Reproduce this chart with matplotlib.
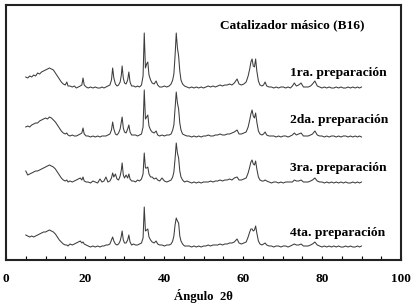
import matplotlib
matplotlib.use("Agg")
import matplotlib.pyplot as plt
import numpy as np

two_theta = [
    5.0, 5.5, 6.0, 6.5, 7.0, 7.5, 8.0, 8.5, 9.0, 9.5,
    10.0, 10.5, 11.0, 11.5, 12.0, 12.5, 13.0, 13.5, 14.0, 14.5,
    15.0, 15.4, 15.7, 16.2, 16.8, 17.3, 17.8, 18.3, 18.8, 19.2,
    19.5, 19.8, 20.3, 20.8, 21.4, 22.0, 22.6, 23.2, 23.8, 24.3,
    24.8, 25.3, 25.8, 26.3, 26.7, 27.0, 27.3, 27.7, 28.1, 28.5,
    28.9, 29.2, 29.4, 29.7, 30.0, 30.4, 30.8, 31.1, 31.4, 31.8,
    32.3, 32.8, 33.3, 33.8, 34.3, 34.7, 35.0, 35.3, 35.6, 35.9,
    36.2, 36.6, 37.0, 37.5, 38.0, 38.4, 38.9, 39.5, 40.1, 40.7,
    41.3, 41.8, 42.2, 42.5, 42.8, 43.1, 43.4, 43.7, 44.0, 44.3,
    44.7, 45.2, 45.8, 46.4, 47.0, 47.6, 48.2, 48.8, 49.4, 50.0,
    50.6, 51.2, 51.8, 52.4, 53.0, 53.6, 54.2, 54.8, 55.4, 56.0,
    56.6, 57.2, 57.8, 58.5, 59.0, 59.6, 60.2, 60.8, 61.3, 61.7,
    62.0, 62.3, 62.6, 62.9, 63.2, 63.5, 63.9, 64.3, 64.8, 65.2,
    65.6, 66.0, 66.6, 67.2, 67.8, 68.4, 69.0, 69.6, 70.2, 70.8,
    71.4, 72.0, 72.5, 73.0, 73.5, 74.1, 74.7, 75.3, 75.9, 76.5,
    77.1, 77.6, 78.2, 78.8, 79.4, 80.0, 80.6, 81.2, 81.8, 82.4,
    83.0, 83.6, 84.2, 84.8, 85.4, 86.0, 86.6, 87.2, 87.8, 88.4,
    89.0, 89.5, 90.0,
]

prep1 = [
    11, 10, 12, 11, 13, 12, 15, 14, 16, 17,
    18, 19, 20, 19, 18, 15, 12, 9, 6, 4,
    3, 6, 2, 2, 1, 2, 0, 1, 2, 3,
    10, 3, 1, 0, 1, 0, 1, 0, 0, 1,
    0, 1, 2, 3, 8, 20, 10, 4, 2, 3,
    6, 13, 22, 10, 5, 4, 8, 16, 6, 2,
    2, 1, 2, 1, 3, 12, 55, 20, 24, 26,
    13, 8, 5, 4, 7, 3, 1, 1, 2, 1,
    2, 4, 8, 14, 32, 55, 40, 32, 17, 8,
    4, 2, 1, 0, 1, 0, 1, 0, 1, 0,
    1, 2, 1, 2, 1, 2, 3, 2, 3, 3,
    4, 3, 5, 9, 4, 3, 4, 6, 12, 19,
    26, 29, 22, 21, 29, 17, 7, 3, 2, 3,
    6, 2, 1, 1, 0, 1, 0, 1, 1, 0,
    1, 0, 2, 5, 2, 3, 5, 1, 1, 1,
    2, 4, 7, 2, 1, 0, 1, 0, 1, 0,
    0, 1, 0, 1, 0, 0, 1, 0, 1, 0,
    1, 0, 1,
]

prep2 = [
    10, 11, 10, 12, 13, 14, 14, 16, 17, 18,
    19, 18, 20, 19, 17, 15, 12, 9, 6, 4,
    3, 4, 2, 1, 2, 1, 1, 2, 3, 4,
    9, 3, 1, 1, 0, 1, 0, 1, 0, 1,
    1, 1, 2, 3, 7, 15, 8, 3, 2, 4,
    8, 15, 20, 9, 5, 4, 8, 12, 5, 2,
    2, 2, 1, 2, 3, 10, 47, 18, 20, 22,
    11, 7, 5, 4, 6, 2, 1, 2, 1, 2,
    2, 3, 7, 12, 28, 45, 34, 28, 14, 7,
    3, 2, 1, 1, 0, 1, 0, 1, 0, 1,
    1, 2, 1, 1, 2, 2, 3, 2, 2, 3,
    3, 4, 5, 7, 3, 3, 4, 5, 10, 17,
    23, 27, 21, 19, 24, 15, 6, 3, 2, 3,
    5, 2, 1, 1, 1, 0, 1, 0, 1, 1,
    0, 1, 2, 4, 2, 3, 4, 1, 1, 1,
    2, 3, 6, 2, 1, 1, 0, 1, 0, 1,
    1, 0, 1, 0, 1, 1, 0, 1, 0, 1,
    0, 1, 0,
]

prep3 = [
    12, 8, 9, 10, 11, 12, 12, 13, 14, 15,
    16, 17, 18, 17, 16, 14, 11, 8, 5, 3,
    2, 3, 1, 2, 1, 2, 3, 4, 5, 3,
    6, 2, 1, 1, 0, 2, 1, 0, 4, 1,
    2, 6, 1, 2, 5, 10, 6, 9, 4, 3,
    7, 13, 20, 8, 5, 8, 5, 9, 4, 2,
    2, 1, 3, 2, 4, 9, 30, 15, 15, 16,
    9, 6, 6, 4, 5, 3, 2, 5, 2, 1,
    2, 3, 6, 11, 24, 40, 30, 25, 12, 6,
    3, 1, 2, 1, 0, 1, 0, 1, 0, 1,
    1, 1, 2, 1, 2, 2, 3, 2, 3, 3,
    4, 3, 5, 6, 3, 3, 4, 5, 10, 16,
    21, 23, 19, 18, 22, 14, 6, 3, 2, 2,
    3, 2, 1, 0, 1, 1, 0, 1, 0, 1,
    1, 1, 1, 3, 2, 2, 3, 1, 1, 1,
    2, 3, 5, 2, 1, 1, 0, 1, 0, 1,
    0, 1, 0, 1, 0, 1, 0, 0, 1, 0,
    1, 0, 1,
]

prep4 = [
    12, 11, 10, 11, 10, 11, 12, 13, 14, 15,
    15, 16, 17, 16, 15, 13, 10, 7, 5, 3,
    2, 2, 1, 3, 2, 3, 4, 5, 6, 4,
    5, 3, 2, 1, 0, 1, 0, 1, 0, 1,
    1, 2, 2, 3, 7, 10, 6, 3, 2, 3,
    6, 11, 16, 7, 4, 4, 7, 12, 5, 2,
    3, 2, 2, 3, 4, 9, 40, 16, 17, 18,
    10, 7, 5, 4, 6, 3, 2, 2, 1, 2,
    2, 3, 6, 11, 22, 29, 26, 24, 11, 6,
    3, 1, 1, 1, 0, 1, 0, 1, 0, 1,
    1, 2, 1, 2, 2, 2, 3, 2, 3, 3,
    4, 4, 5, 8, 4, 3, 4, 5, 10, 15,
    18, 18, 16, 17, 21, 14, 6, 3, 2, 3,
    4, 2, 1, 1, 0, 1, 1, 0, 1, 1,
    0, 1, 2, 3, 2, 2, 3, 1, 1, 1,
    2, 3, 5, 2, 1, 0, 1, 0, 1, 0,
    1, 0, 1, 0, 0, 1, 0, 1, 0, 0,
    1, 0, 1,
]

series = [prep1, prep2, prep3, prep4]
offsets = [172, 123, 77, 13]
labels = ["1ra. preparación", "2da. preparación", "3ra. preparación", "4ta. preparación"]
label_y = [187, 140, 92, 27]
title = "Catalizador másico (B16)"

serif = ["Liberation Serif", "DejaVu Serif"]

fig = plt.figure(figsize=(4.16, 3.07), dpi=100)
ax = fig.add_axes([6/416, 47/307, 395/416, 255/307])

x = np.array(two_theta)
for s, off in zip(series, offsets):
    assert len(s) == len(x)
    ax.plot(x, np.array(s) + off, color="#3c3c3c", lw=0.75)

for lab, ly in zip(labels, label_y):
    ax.text(71.9, ly, lab, family=serif, weight="bold", fontsize=9.7, va="center", ha="left")
ax.text(54.2, 235, title, family=serif, weight="bold", fontsize=9.6, va="center", ha="left")

ax.set_xlim(0, 100)
ax.set_ylim(0, 255)
ax.set_yticks([])
ax.set_xticks([0, 20, 40, 60, 80, 100])
ax.set_xticks(np.arange(0, 101, 5), minor=True)
ax.tick_params(axis="x", which="both", direction="in", length=3, width=0.8, pad=9)
for lbl in ax.get_xticklabels():
    lbl.set_family(serif)
    lbl.set_weight("bold")
    lbl.set_fontsize(9.5)
ax.set_xlabel("Ángulo  2θ", family=serif, weight="bold", fontsize=9.2, labelpad=3)
for sp in ax.spines.values():
    sp.set_linewidth(1.5)
    sp.set_color("#222222")

fig.savefig("out.png", dpi=100)
